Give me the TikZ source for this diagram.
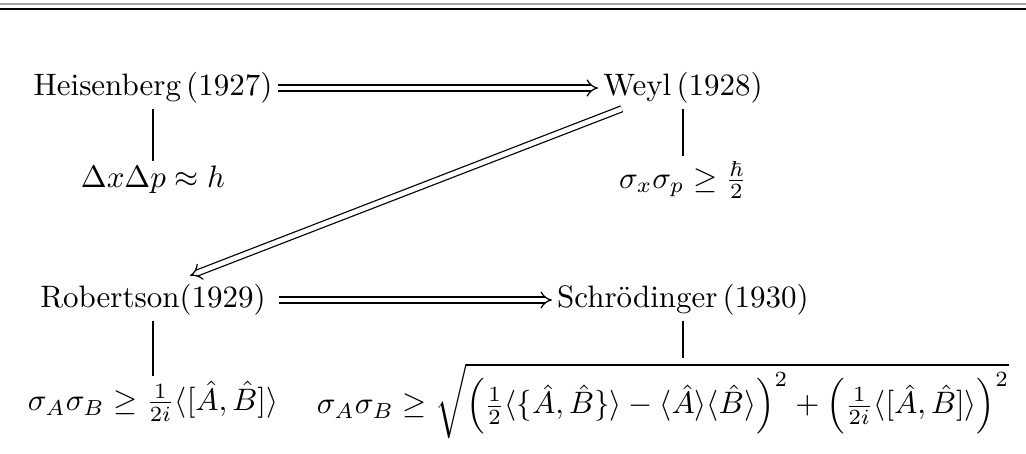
\documentclass[tikz,border=0pt]{standalone}
\usepackage{amsmath,amssymb}
\usetikzlibrary{arrows.meta,calc}

\begin{document}
\begin{tikzpicture}[
    person/.style={inner sep=1.5pt},
    result/.style={inner sep=1.5pt},
    arrow/.style={double, double equal sign distance, -{Implies}, thin},
    link/.style={thin}]

    \useasboundingbox (0,0) rectangle (11.635,5.148);
    % rules on top
    \draw[gray!70, line width=0.7pt] (0,5.105) -- (11.635,5.105);
    \draw[line width=0.5pt] (0,5.045) -- (11.635,5.045);

    \node (heis) [person] at (1.735,4.15) {Heisenberg\,(1927)};
    \node (weyl) [person] at (7.745,4.15) {Weyl\,(1928)};
    \node (heisr) [result] at (1.735,3.107) {$\Delta x\Delta p\approx h$};
    \node (weylr) [result] at (7.745,3.107) {$\sigma_x\sigma_p\geq\frac{\hbar}{2}$};

    \node (rob) [person] at (1.735,1.746) {Robertson(1929)};
    \node (schr) [person] at (7.745,1.746) {Schr\"odinger\,(1930)};
    \node (robr) [result] at (1.735,0.6) {$\sigma_A\sigma_B\geq\frac{1}{2i}\langle[\hat{A},\hat{B}]\rangle$};
    \node (schrr) [result] at (7.52,0.6) {$\sigma_A\sigma_B\geq\sqrt{\left(\frac{1}{2}\langle\{\hat{A},\hat{B}\}\rangle-\langle\hat{A}\rangle\langle\hat{B}\rangle\right)^2+\left(\frac{1}{2i}\langle[\hat{A},\hat{B}]\rangle\right)^2}$};

    \draw [arrow] (heis) -- (weyl);
    \draw [arrow] ($(weyl.south west)+(0.27,0)$) -- ($(rob.north)+(0.42,0.04)$);
    \draw [arrow, shorten <=2.5pt] (rob) -- (schr);

    \draw [link] (heis) -- (heisr);
    \draw [link] (weyl) -- (weylr);
    \draw [link] (rob) -- (robr);
    \draw [link] (schr) -- (schrr.north -| schr);
\end{tikzpicture}
\end{document}
